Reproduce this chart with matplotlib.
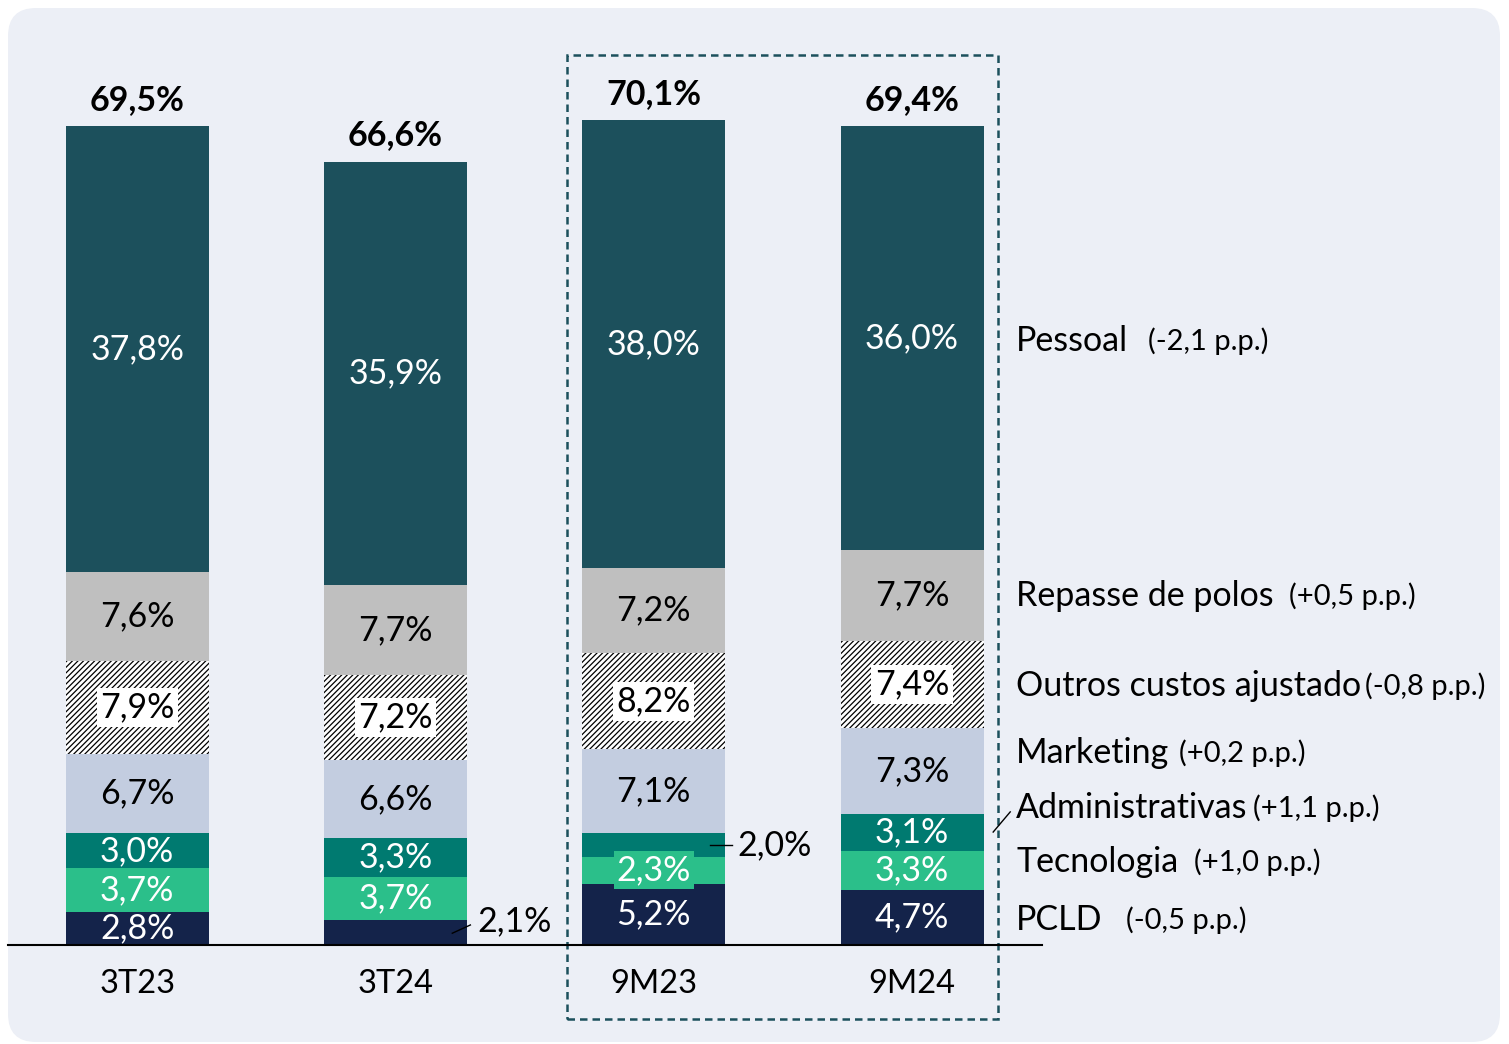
import matplotlib
matplotlib.use("Agg")
import matplotlib.pyplot as plt
from matplotlib.patches import FancyBboxPatch, Rectangle
import numpy as np

# ---------------- data ----------------
categories = ["3T23", "3T24", "9M23", "9M24"]
series_names = ["PCLD", "Tecnologia", "Administrativas", "Marketing",
                "Outros custos ajustado", "Repasse de polos", "Pessoal"]
pclf = [2.8, 2.1, 5.2, 4.7]
tecnologia = [3.7, 3.7, 2.3, 3.3]
administrativas = [3.0, 3.3, 2.0, 3.1]
marketing = [6.7, 6.6, 7.1, 7.3]
outros = [7.9, 7.2, 8.2, 7.4]
repasse = [7.6, 7.7, 7.2, 7.7]
pessoal = [37.8, 35.9, 38.0, 36.0]
totals = [69.5, 66.6, 70.1, 69.4]
deltas = ["(-0,5 p.p.)", "(+1,0 p.p.)", "(+1,1 p.p.)", "(+0,2 p.p.)",
          "(-0,8 p.p.)", "(+0,5 p.p.)", "(-2,1 p.p.)"]

series = [pclf, tecnologia, administrativas, marketing, outros, repasse, pessoal]

# ---------------- style ----------------
FONT = ["Lato", "DejaVu Sans"]
plt.rcParams["font.family"] = FONT
plt.rcParams["hatch.linewidth"] = 0.9

colors = ["#14234a", "#2bbf8a", "#007a70", "#c3cde0", "white", "#bfbfbf", "#1c505c"]
text_colors = ["white", "white", "white", "black", "black", "black", "white"]
BG = "#eceff6"
DASH = "#1c505c"
FS = 24.5
FS_CAT = 23.5
FS_PP = 21

W, H = 1509, 1044
fig = plt.figure(figsize=(W / 100, H / 100), dpi=100)
fig.patch.set_facecolor("white")

# background rounded panel (pixel coordinates)
bg = fig.add_axes([0, 0, 1, 1])
bg.set_xlim(0, W)
bg.set_ylim(H, 0)
bg.axis("off")
bg.add_patch(FancyBboxPatch((8, 8), 1492, 1034,
                            boxstyle="round,pad=0,rounding_size=28",
                            facecolor=BG, edgecolor="none"))

# main axes
left_px, right_px = 8, 1042
base_px, top_px = 945, 8
ax = fig.add_axes([left_px / W, 1 - base_px / H,
                   (right_px - left_px) / W, (base_px - top_px) / H])
ax.set_facecolor("none")
ax.set_xlim(-0.5, 3.503)
ax.set_ylim(0, 79.55)
ax.axis("off")

x = np.arange(len(categories))
width = 0.554
bottom = np.zeros(len(categories))
for i, (vals, col) in enumerate(zip(series, colors)):
    vals = np.array(vals)
    if series_names[i] == "Outros custos ajustado":
        ax.bar(x, vals, width, bottom=bottom, color="white", edgecolor="black",
               hatch="//////", linewidth=0)
    else:
        ax.bar(x, vals, width, bottom=bottom, color=col, linewidth=0)
    for j in range(len(categories)):
        lab = f"{vals[j]:.1f}%".replace(".", ",")
        cy = bottom[j] + vals[j] / 2
        if series_names[i] == "PCLD" and categories[j] == "3T24":
            continue
        if series_names[i] == "Administrativas" and categories[j] == "9M23":
            continue
        bbox = None
        if series_names[i] == "Outros custos ajustado":
            bbox = dict(facecolor="white", edgecolor="none", pad=2.5)
        if series_names[i] == "Tecnologia" and categories[j] == "9M23":
            bbox = dict(facecolor=col, edgecolor="none", pad=2.0)
        ax.text(x[j], cy, lab, ha="center", va="center", fontsize=FS,
                color=text_colors[i], bbox=bbox, zorder=5)
    bottom = bottom + vals

# totals
for j in range(len(categories)):
    ax.annotate(f"{totals[j]:.1f}%".replace(".", ","), xy=(x[j], bottom[j]),
                xytext=(0, 19), textcoords="offset points", ha="center",
                va="center", fontsize=FS, fontweight="bold", color="black")

# category labels
for j, c in enumerate(categories):
    ax.text(x[j], -3.3, c, ha="center", va="center", fontsize=FS_CAT, color="black")

# baseline
ax.plot([-0.5, 3.503], [0, 0], color="black", lw=1.5, clip_on=False, zorder=6)

# outside labels with leader lines
ax.plot([1.22, 1.29], [1.0, 1.7], color="black", lw=1, clip_on=False, zorder=6)
ax.text(1.318, 2.0, "2,1%", ha="left", va="center", fontsize=FS)
ax.plot([2.218, 2.303], [8.5, 8.5], color="black", lw=1, clip_on=False, zorder=6)
ax.text(2.325, 8.5, "2,0%", ha="left", va="center", fontsize=FS)

# dashed highlight box around 9M
ax.add_patch(Rectangle((1.665, -6.28), 3.333 - 1.665, 75.55 + 6.28,
                       fill=False, edgecolor=DASH, linestyle=(0, (3, 2)),
                       lw=1.8, clip_on=False))

# right-side legend labels
legend_y = [2.1, 7.05, 11.6, 16.3, 22.0, 29.6, 51.3]
gaps = [17, 11, 4, 7, 3, 11, 14]
lx = 3.403
for name, d, yy, g in zip(series_names, deltas, legend_y, gaps):
    t = ax.text(lx, yy, name, ha="left", va="center", fontsize=FS, clip_on=False)
    ax.annotate(d, xy=(1, 0), xycoords=t, xytext=(g, 1.5),
                textcoords="offset points", ha="left", va="bottom", fontsize=FS_PP)

ax.plot([3.314, 3.380], [9.59, 11.3], color="black", lw=1, clip_on=False, zorder=6)

fig.savefig("out.png", dpi=100, facecolor="white")
